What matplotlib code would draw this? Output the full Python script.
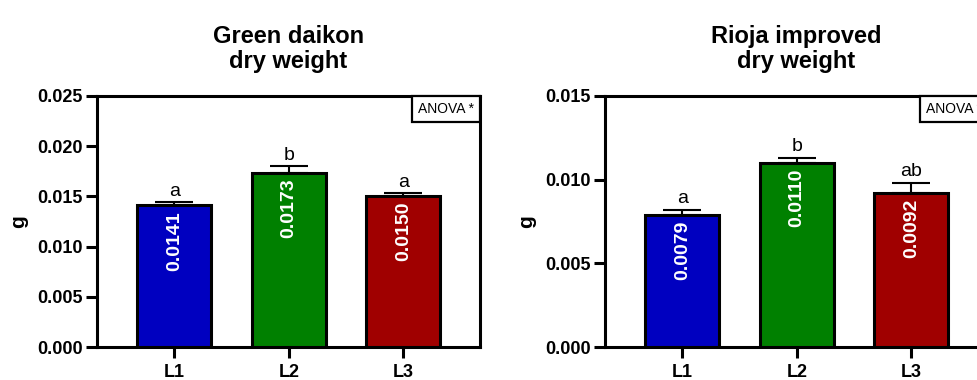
import numpy as np
import matplotlib
matplotlib.use('Agg')
import matplotlib.pyplot as plt
from matplotlib.patches import Rectangle

plt.rcParams['font.family'] = ['Liberation Sans', 'DejaVu Sans']

# data
lines = ['L1', 'L2', 'L3']
colors = ['#0000C0', '#008000', '#A00000']

daikon_mean = [0.0141, 0.0173, 0.0150]
daikon_err = [0.0003, 0.0007, 0.0003]
daikon_letters = ['a', 'b', 'a']

rioja_mean = [0.0079, 0.0110, 0.0092]
rioja_err = [0.0003, 0.0003, 0.0006]
rioja_letters = ['a', 'b', 'ab']

panels = [
    ['Green daikon\ndry weight', daikon_mean, daikon_err, daikon_letters, 0.025, 97],
    ['Rioja improved\ndry weight', rioja_mean, rioja_err, rioja_letters, 0.015, 605],
]

W, H = 977, 380
fig = plt.figure(figsize=(W / 100, H / 100), dpi=100)
lw = 2.2

for title, means, errs, letters, ymax, left_px in panels:
    ax = fig.add_axes([left_px / W, 33 / H, 383 / W, 251 / H])
    x = np.arange(len(lines))
    ax.bar(x, means, width=0.65, color=colors, edgecolor='black', linewidth=lw, zorder=3)
    ax.errorbar(x, means, yerr=[np.zeros(len(errs)), errs], fmt='none', ecolor='black',
                elinewidth=1.5, capsize=13.5, capthick=1.5, zorder=2)
    for xi, m, e, let in zip(x, means, errs, letters):
        ax.annotate(f'{m:.4f}', (xi, m), xytext=(0, -4), textcoords='offset points',
                    rotation=90, ha='center', va='top', color='white',
                    fontsize=14, fontweight='bold', zorder=4)
        ax.annotate(let, (xi, m + e), xytext=(0, 2), textcoords='offset points',
                    ha='center', va='bottom', fontsize=14)
    ax.set_xlim(-0.675, 2.67)
    ax.set_ylim(0, ymax)
    ax.set_yticks(np.arange(0, ymax + 1e-9, 0.005))
    ax.set_yticklabels([f'{v:.3f}' for v in np.arange(0, ymax + 1e-9, 0.005)])
    ax.set_xticks(x)
    ax.set_xticklabels(lines)
    for lab in ax.get_xticklabels() + ax.get_yticklabels():
        lab.set_fontweight('bold')
        lab.set_fontsize(13)
    ax.tick_params(direction='out', length=8, width=lw)
    ax.tick_params(axis='y', pad=2)
    ax.tick_params(axis='x', pad=4)
    for sp in ax.spines.values():
        sp.set_linewidth(lw)
    ax.set_ylabel('g', fontsize=15, fontweight='bold', labelpad=7)
    ax.set_title(title, fontsize=17, fontweight='bold', pad=20, linespacing=1.15)

    # ANOVA box in top-right corner
    bw, bh = 68 / 383, 26 / 251
    ax.add_patch(Rectangle((1 - bw, 1 - bh), bw, bh, transform=ax.transAxes,
                           facecolor='white', edgecolor='black', linewidth=1.6,
                           zorder=5, clip_on=False))
    ax.text(1 - bw / 2, 1 - bh / 2, 'ANOVA *', transform=ax.transAxes,
            ha='center', va='center', fontsize=10, zorder=6)

fig.savefig('out.png', dpi=100)
